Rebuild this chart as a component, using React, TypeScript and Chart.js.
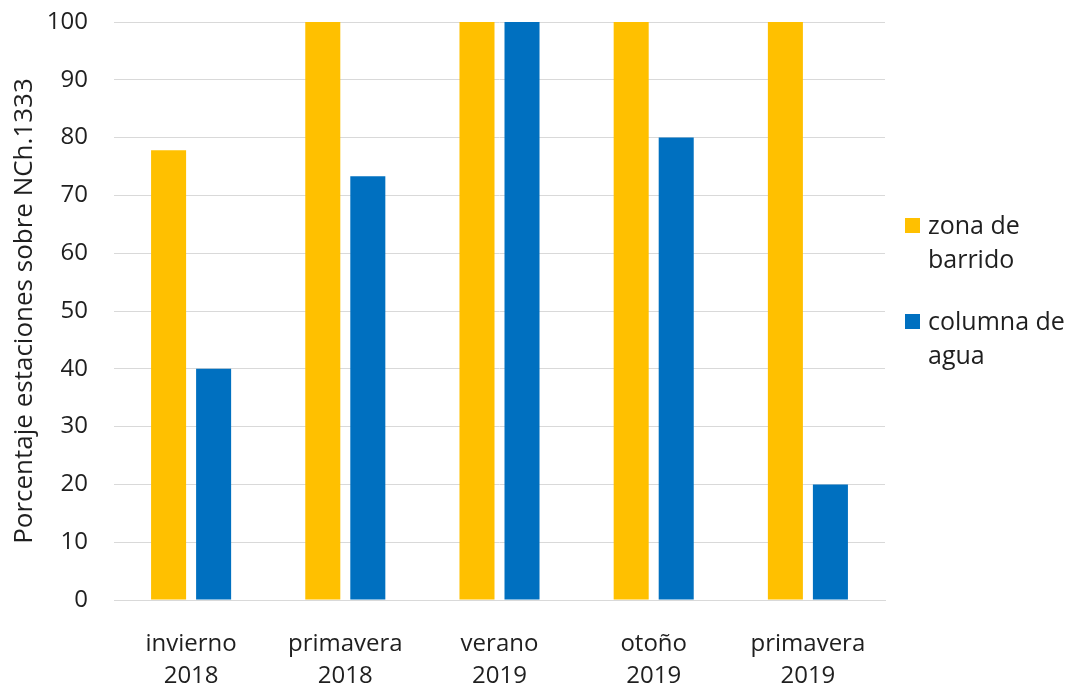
import React, { useEffect, useRef } from "react";
import { Chart, registerables } from "chart.js";

Chart.register(...registerables);

const categories: string[][] = [
  ["invierno", "2018"],
  ["primavera", "2018"],
  ["verano", "2019"],
  ["otoño", "2019"],
  ["primavera", "2019"],
];
const zonaBarrido: number[] = [77.8, 100, 100, 100, 100];
const columnaAgua: number[] = [40, 73.3, 100, 80, 20];
const seriesNames: string[][] = [
  ["zona de", "barrido"],
  ["columna de", "agua"],
];
const yTitle = "Porcentaje estaciones sobre NCh.1333";

const YELLOW = "#FFC000";
const BLUE = "#0070C0";
const TEXT = "#1f1f1f";
const FONT = "'Open Sans', sans-serif";

const legendPlugin = {
  id: "sideLegend",
  afterDraw(chart: any) {
    const ctx = chart.ctx;
    const area = chart.chartArea;
    const x0 = area.right + 20;
    const starts = [218, 314];
    ctx.save();
    ctx.font = `25px ${FONT}`;
    ctx.textBaseline = "middle";
    ctx.textAlign = "left";
    chart.data.datasets.forEach((ds: any, i: number) => {
      const y = starts[i];
      ctx.fillStyle = ds.backgroundColor;
      ctx.fillRect(x0, y, 15, 15);
      ctx.fillStyle = TEXT;
      const lines: string[] = seriesNames[i];
      lines.forEach((ln, j) => {
        ctx.fillText(ln, x0 + 23, y + 9 + j * 34);
      });
    });
    ctx.restore();
  },
};

export default function App() {
  const ref = useRef<HTMLCanvasElement>(null);
  useEffect(() => {
    document.body.style.margin = "0";
    if (!ref.current) return;
    const chart = new Chart(ref.current, {
      type: "bar",
      data: {
        labels: categories,
        datasets: [
          {
            label: seriesNames[0].join(" "),
            data: zonaBarrido,
            backgroundColor: YELLOW,
            categoryPercentage: 0.584,
            barPercentage: 0.778,
          },
          {
            label: seriesNames[1].join(" "),
            data: columnaAgua,
            backgroundColor: BLUE,
            categoryPercentage: 0.584,
            barPercentage: 0.778,
          },
        ],
      },
      options: {
        responsive: false,
        animation: false,
        layout: { padding: { top: 22, right: 188, left: 0, bottom: 0 } },
        plugins: {
          legend: { display: false },
          tooltip: { enabled: false },
        },
        scales: {
          x: {
            grid: { display: false },
            border: { display: true, color: "#d9d9d9", width: 1 },
            ticks: {
              color: TEXT,
              font: { family: FONT, size: 24, lineHeight: 1.33 },
              padding: 20,
              maxRotation: 0,
            },
            afterFit(scale: any) {
              scale.height = 90;
            },
          },
          y: {
            min: 0,
            max: 100,
            ticks: {
              stepSize: 10,
              color: TEXT,
              font: { family: FONT, size: 24 },
              padding: 26,
            },
            grid: { color: "#d9d9d9", drawTicks: false },
            border: { display: false },
            title: {
              display: true,
              text: yTitle,
              color: TEXT,
              font: { family: FONT, size: 26 },
              padding: { top: 9, bottom: 0 },
            },
            afterFit(scale: any) {
              scale.width = 114;
              scale.paddingTop = 0;
              scale.paddingBottom = 0;
            },
          },
        },
      },
      plugins: [legendPlugin],
    });
    return () => chart.destroy();
  }, []);
  return (
    <div style={{ width: 1073, height: 690 }}>
      <canvas ref={ref} width={1073} height={690} />
    </div>
  );
}
